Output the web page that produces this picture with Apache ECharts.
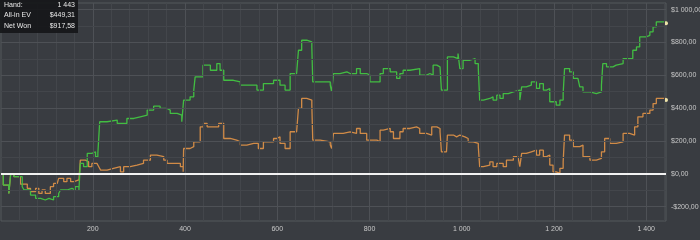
<!DOCTYPE html>
<html>
<head>
<meta charset="utf-8">
<script src="https://cdn.jsdelivr.net/npm/echarts@6/dist/echarts.min.js"></script>
<style>
html,body{margin:0;padding:0;background:#393c41;overflow:hidden;}
#c{width:700px;height:240px;}
</style>
</head>
<body>
<div id="c"></div>
<script>
// ---- data ----
const xTicks = [200, 400, 600, 800, 1000, 1200, 1400];
const yTicks = [-200, 0, 200, 400, 600, 800, 1000];

const netWonHands = [1,6,18,22,29,47,51,65,76,87,97,105,115,126,130,144,155,162,170,173,180,188,198,206,211,215,231,253,274,289,303,318,332,346,361,368,383,393,397,411,419,422,439,455,469,476,484,505,520,534,556,570,592,606,617,628,642,646,653,664,675,677,693,715,718,722,736,751,
758,772,780,794,801,823,830,845,859,866,873,888,909,924,931,938,946,953,956,969,982,992,996,1003,1018,1029,1036,1039,1047,1061,1068,1076,1083,1090,1101,1112,1126,1130,1140,1151,1162,1169,1177,1184,1191,1205,1213,1220,1223,1234,1242,1252,1256,1263,1278,1292,1303,1306,1314,1328,1335,1350,1364,1371,1379,1386,1400,1408,1415,1422,1433,1443];
const netWonValues = [0,-69,-120,0,-18,-79,-99,-130,-150,-160,-150,-160,-140,-120,-99,-89,-99,-79,-99,63,43,124,134,104,124,317,327,307,337,347,357,388,412,398,388,368,357,317,449,469,510,591,662,631,672,631,570,560,540,540,510,550,570,540,510,611,621,753,814,804,773,560,560,540,499,611,621,611,
611,641,611,601,560,611,641,621,581,611,631,641,601,611,601,662,652,641,510,712,702,733,641,692,702,672,641,449,459,469,449,479,459,489,499,510,449,530,540,560,520,550,510,520,439,418,449,489,641,621,581,570,530,499,489,499,540,672,652,662,672,702,702,753,773,834,844,865,895,926,926,917.58];

const evHands = [1,6,18,22,29,43,58,65,76,83,90,97,108,115,123,126,137,144,152,159,170,173,184,191,198,209,213,217,231,245,260,267,281,296,310,325,339,354,361,375,390,396,397,411,419,433,440,448,473,484,498,512,520,534,549,559,570,592,599,606,617,628,642,646,653,664,675,677,693,715,718,722,743,
758,772,780,794,816,823,830,845,852,866,873,888,902,909,924,935,946,953,956,967,969,982,989,996,1007,1014,1025,1036,1039,1047,1061,1068,1076,1090,1097,1112,1122,1126,1130,1140,1151,1162,1169,1177,1184,1191,1198,1205,1213,1220,1223,1234,1242,1256,1263,1278,1292,1303,1310,1321,1335,1350,1364,1375,1382,1393,1408,1415,1422,1433,1443];
const evValues = [0,-69,-120,0,-18,-63,-89,-109,-89,-120,-99,-120,-79,-59,-69,-28,-48,-28,-48,-38,-38,83,73,43,63,73,43,22,33,43,12,43,53,63,83,114,104,83,63,63,43,12,154,165,195,286,307,286,307,215,205,195,175,185,185,154,195,215,225,185,154,256,266,398,459,449,418,205,195,175,154,246,256,
246,276,246,205,195,266,276,256,215,256,276,286,276,246,236,286,276,256,134,134,236,225,236,225,215,195,185,165,43,53,73,43,63,43,83,104,104,43,124,134,144,114,144,104,114,53,12,2,33,73,236,205,165,175,104,83,94,134,215,185,195,246,236,286,347,368,388,428,459,459,449.31];

const tipLabels = ['Hand:', 'All-in EV', 'Net Won'];
const tipValues = ['1 443', '$449,31', '$917,58'];

// ---- helpers ----
function pairs(xs, ys) { return xs.map((x, i) => [x, ys[i]]); }
function fmtThousands(n) {
  return String(Math.abs(n)).replace(/\B(?=(\d{3})+(?!\d))/g, ' ');
}
function money(v) { return (v < 0 ? '-' : '') + '$' + fmtThousands(v) + ',00'; }

const X_MIN = 1, X_MAX = 1443, Y_MIN = -288, Y_MAX = 1041;

const gridLines = [];
for (let x = 40; x <= 1440; x += 40) {
  gridLines.push({ xAxis: x, lineStyle: { color: x % 200 === 0 ? '#4e5156' : '#43464b', width: 1, type: 'solid' } });
}
for (let y = -200; y <= 1000; y += 100) {
  if (y === 0) continue;
  gridLines.push({ yAxis: y, lineStyle: { color: y % 200 === 0 ? '#4e5156' : '#43464b', width: 1, type: 'solid' } });
}

const font = 'Liberation Sans, Arial, sans-serif';
const chart = echarts.init(document.getElementById('c'), null, { renderer: 'canvas' });

function endSymbol(len) {
  return function (val, params) { return params.dataIndex === len - 1 ? 4 : 0; };
}

chart.setOption({
  animation: false,
  backgroundColor: '#393c41',
  grid: { left: 1, right: 34, top: 3, bottom: 19, containLabel: false, outerBoundsMode: 'none',
          show: true, borderColor: '#55585d', borderWidth: 1, backgroundColor: 'transparent' },
  xAxis: {
    type: 'value', min: X_MIN, max: X_MAX,
    name: 'Hands', nameLocation: 'middle', nameGap: 19,
    nameTextStyle: { color: '#c8c8c8', fontSize: 7, fontFamily: font },
    axisLine: { show: false }, axisTick: { show: false }, splitLine: { show: false },
    axisLabel: {
      customValues: xTicks, color: '#c8c8c8', fontSize: 7, fontFamily: font, margin: 5,
      formatter: v => fmtThousands(v)
    }
  },
  yAxis: {
    type: 'value', min: Y_MIN, max: Y_MAX, position: 'right',
    axisLine: { show: false }, axisTick: { show: false }, splitLine: { show: false },
    axisLabel: {
      customValues: yTicks, color: '#c8c8c8', fontSize: 7, fontFamily: font, margin: 5,
      formatter: v => money(v)
    }
  },
  series: [
    {
      type: 'line', data: [], z: 1, silent: true,
      markLine: {
        silent: true, symbol: ['none', 'none'], label: { show: false }, animation: false,
        data: gridLines.concat([{ yAxis: 0, lineStyle: { color: '#f2f2f2', width: 2, type: 'solid' } }])
      }
    },
    {
      name: 'All-in EV', type: 'line', step: 'end', z: 3,
      data: pairs(evHands, evValues),
      symbol: 'circle', showSymbol: true, showAllSymbol: true,
      symbolSize: endSymbol(evHands.length),
      itemStyle: { color: '#eee3a8', borderWidth: 0 },
      lineStyle: { color: '#d18b47', width: 1.3 }
    },
    {
      name: 'Net Won', type: 'line', step: 'end', z: 4,
      data: pairs(netWonHands, netWonValues),
      symbol: 'circle', showSymbol: true, showAllSymbol: true,
      symbolSize: endSymbol(netWonHands.length),
      itemStyle: { color: '#eee3a8', borderWidth: 0 },
      lineStyle: { color: '#42bd42', width: 1.3 }
    }
  ],
  graphic: [
    { type: 'rect', left: 0, top: 0, z: 100, shape: { width: 78, height: 33 }, style: { fill: 'rgba(22,23,25,0.92)' } },
    { type: 'text', left: 4, top: 1.5, z: 101, style: { text: tipLabels[0], fill: '#e8e8e8', font: '7px ' + font } },
    { type: 'text', left: 4, top: 12, z: 101, style: { text: tipLabels[1], fill: '#e8e8e8', font: '7px ' + font } },
    { type: 'text', left: 4, top: 22.5, z: 101, style: { text: tipLabels[2], fill: '#e8e8e8', font: '7px ' + font } },
    { type: 'text', right: 625, top: 1.5, z: 101, style: { text: tipValues[0], fill: '#e8e8e8', font: '7px ' + font } },
    { type: 'text', right: 625, top: 12, z: 101, style: { text: tipValues[1], fill: '#e8e8e8', font: '7px ' + font } },
    { type: 'text', right: 625, top: 22.5, z: 101, style: { text: tipValues[2], fill: '#e8e8e8', font: '7px ' + font } }
  ]
});
</script>
</body>
</html>
